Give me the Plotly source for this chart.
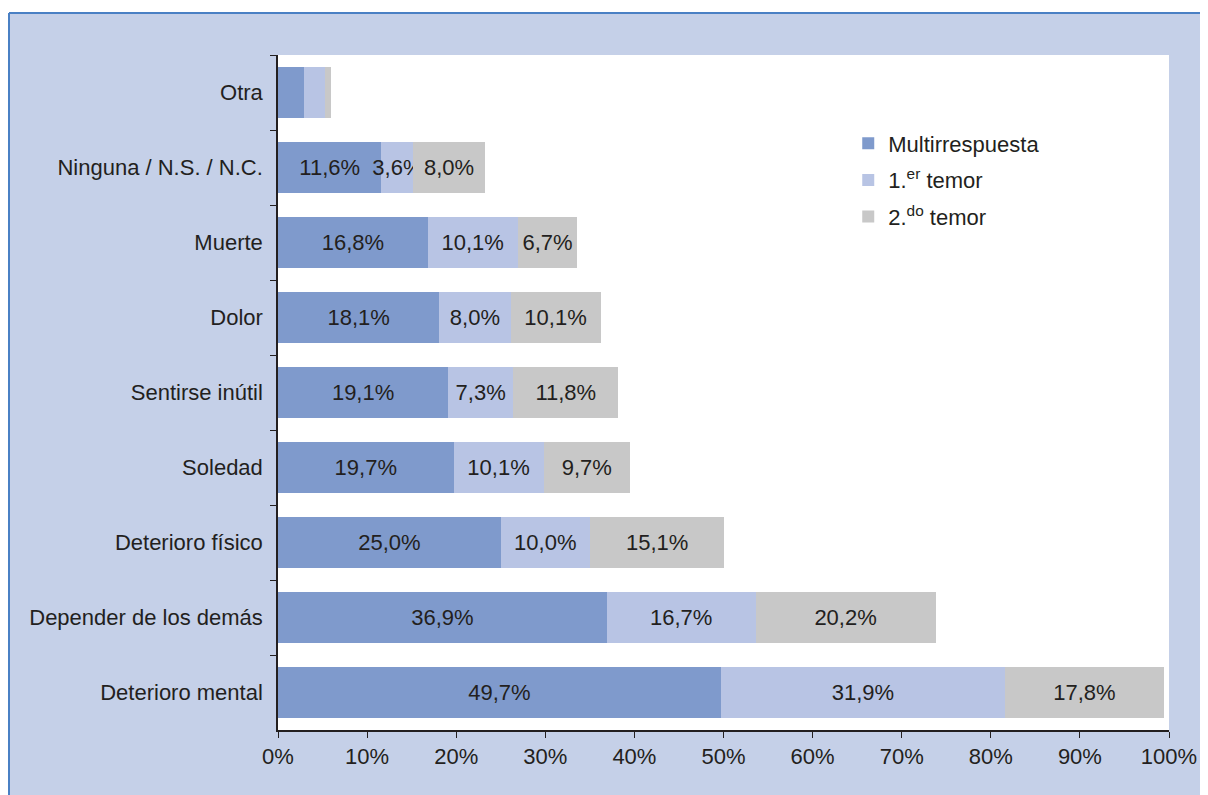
import plotly.graph_objects as go

categories = ["Otra", "Ninguna / N.S. / N.C.", "Muerte", "Dolor", "Sentirse inútil",
              "Soledad", "Deterioro físico", "Depender de los demás", "Deterioro mental"]
multi = [2.9, 11.6, 16.8, 18.1, 19.1, 19.7, 25.0, 36.9, 49.7]
primer = [2.4, 3.6, 10.1, 8.0, 7.3, 10.1, 10.0, 16.7, 31.9]
segundo = [0.6, 8.0, 6.7, 10.1, 11.8, 9.7, 15.1, 20.2, 17.8]
series_names = ["Multirrespuesta", "1.<sup>er</sup> temor", "2.<sup>do</sup> temor"]
colors = ["#7F9ACC", "#B8C4E4", "#C8C8C8"]
unlabeled = ["Otra"]  # rows drawn without value labels

FONT = "Liberation Sans, Arial, sans-serif"
TXT = "#231F20"

# page body has an 8px default margin; the figure is sized to fit after it
L, R, T, B = 270, 39, 47, 65
PW, PH = 891, 675

def fmt(v):
    return f"{v:.1f}".replace(".", ",") + "%"

fig = go.Figure()
for i, (name, vals, col) in enumerate(zip(series_names, [multi, primer, segundo], colors)):
    lab_c = [c for c in categories if c not in unlabeled]
    lab_v = [v for c, v in zip(categories, vals) if c not in unlabeled]
    unl_c = [c for c in categories if c in unlabeled]
    unl_v = [v for c, v in zip(categories, vals) if c in unlabeled]
    fig.add_trace(go.Bar(
        y=unl_c, x=unl_v, name=name, orientation="h", legendgroup=f"g{i}",
        showlegend=False, marker=dict(color=col, line=dict(width=0)),
        hoverinfo="skip",
    ))
    fig.add_trace(go.Bar(
        y=lab_c, x=lab_v, name=name, orientation="h", legendgroup=f"g{i}",
        marker=dict(color=col, line=dict(width=0)),
        text=[fmt(v) for v in lab_v], textposition="inside", insidetextanchor="middle",
        textangle=0, textfont=dict(family=FONT, size=22, color=TXT),
        hoverinfo="skip", cliponaxis=False,
    ))

top_y = (PH + T - 5) / PH      # blue frame top edge (screen y = 13)
left_x = (1 - L) / PW          # blue frame left edge (screen x = 9)

fig.update_layout(
    barmode="stack", bargap=0.32,
    width=L + PW + R, height=T + PH + B,
    margin=dict(l=L, r=R, t=T, b=B),
    paper_bgcolor="#C5D0E8", plot_bgcolor="white",
    font=dict(family=FONT, size=22, color=TXT),
    uniformtext=dict(minsize=22, mode="show"),
    legend=dict(x=0.64, y=0.9, xanchor="left", yanchor="top",
                bgcolor="rgba(0,0,0,0)", font=dict(size=22, color=TXT),
                itemsizing="constant", tracegroupgap=5, traceorder="grouped"),
    xaxis=dict(range=[0, 100], dtick=10, ticksuffix="%", showgrid=False, zeroline=False,
               showline=True, linecolor="#231F20", linewidth=1.5,
               ticks="outside", ticklen=6, tickcolor="#231F20",
               tickfont=dict(size=22, color=TXT)),
    yaxis=dict(categoryorder="array", categoryarray=categories, autorange="reversed",
               showgrid=False, zeroline=False,
               showline=True, linecolor="#231F20", linewidth=1.5,
               ticks="outside", ticklen=6, tickcolor="#231F20", tickson="boundaries",
               tickfont=dict(size=22, color=TXT), ticklabelstandoff=9),
    shapes=[
        dict(type="rect", xref="paper", yref="paper", x0=-0.4, x1=1.2,
             y0=top_y, y1=1.3, fillcolor="white", line=dict(width=0), layer="below"),
        dict(type="line", xref="paper", yref="paper", x0=left_x, x1=1.2,
             y0=top_y, y1=top_y, line=dict(color="#4A80C4", width=2)),
        dict(type="line", xref="paper", yref="paper", x0=left_x, x1=left_x,
             y0=-0.2, y1=top_y, line=dict(color="#4A80C4", width=2)),
    ],
)

fig.write_html("out.html")
